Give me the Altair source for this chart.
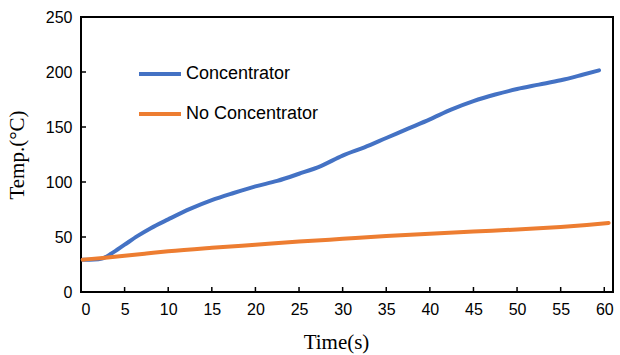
import altair as alt
import pandas as pd

# ---- data ----
t_conc = [0.2, 1, 2, 2.5, 3.5, 5, 6.5, 8, 10, 12.5, 15, 17.5, 20, 22.5, 25, 27.5, 30,
          32.5, 35, 37.5, 40, 42.5, 45, 47.5, 50, 52.5, 55, 57.5, 59.4]
v_conc = [29.4, 29.4, 29.8, 30.6, 35, 43, 51, 58, 66, 75.5, 83.5, 90, 96, 101, 107.5,
          114.5, 124, 131.5, 140, 148.5, 157, 166, 173.5, 179.5, 184.5, 188.5,
          192.5, 197.5, 201.5]
t_none = [0.2, 2.5, 5, 7.5, 10, 15, 20, 25, 30, 35, 40, 45, 50, 55, 58, 60.5]
v_none = [29.4, 31, 33, 35, 37, 40.2, 43, 45.8, 48.3, 50.8, 53, 55, 56.8, 59.2,
          61, 62.8]
series_names = ["Concentrator", "No Concentrator"]
series_colors = ["#4472C4", "#ED7D31"]
x_ticks = [5, 10, 15, 20, 25, 30, 35, 40, 45, 50, 55, 60]
y_ticks = [50, 100, 150, 200, 250]

df = pd.concat([
    pd.DataFrame({"t": t_conc, "v": v_conc, "s": series_names[0]}),
    pd.DataFrame({"t": t_none, "v": v_none, "s": series_names[1]}),
])

W, H = 532, 275
xs = alt.Scale(domain=[0, 61], nice=False, zero=False)
ys = alt.Scale(domain=[0, 250], nice=False)

lines = alt.Chart(df).mark_line(strokeWidth=4, interpolate="monotone",
                                strokeCap="round").encode(
    x=alt.X("t:Q", scale=xs,
            axis=alt.Axis(values=[0] + x_ticks, title="Time(s)", ticks=False,
                          domain=False, grid=False, labelPadding=9,
                          labelFontSize=16, labelFont="Liberation Sans",
                          labelColor="black", titleFont="Liberation Serif",
                          titleFontSize=21, titleFontWeight="normal",
                          titleColor="black", titlePadding=14, titleX=255)),
    y=alt.Y("v:Q", scale=ys,
            axis=alt.Axis(values=[0] + y_ticks, title="Temp.(°C)", ticks=False,
                          domain=False, grid=False, labelPadding=9,
                          labelFontSize=16, labelFont="Liberation Sans",
                          labelColor="black", titleFont="Liberation Serif",
                          titleFontSize=21, titleFontWeight="normal",
                          titleColor="black", titlePadding=18)),
    color=alt.Color("s:N", scale=alt.Scale(domain=series_names, range=series_colors),
                    legend=alt.Legend(title=None, orient="none", legendX=56,
                                      legendY=34, symbolType="stroke",
                                      symbolSize=1764, symbolStrokeWidth=4,
                                      labelFontSize=18, labelFont="Liberation Sans",
                                      labelColor="black", rowPadding=8,
                                      labelOffset=3)),
)

xt = alt.Chart(pd.DataFrame({"t": x_ticks})).mark_rule(color="black", strokeWidth=1.5).encode(
    x=alt.X("t:Q", scale=xs), y=alt.value(H), y2=alt.value(H - 5))
yt = alt.Chart(pd.DataFrame({"v": y_ticks})).mark_rule(color="black", strokeWidth=1.5).encode(
    y=alt.Y("v:Q", scale=ys), x=alt.value(0), x2=alt.value(5))

chart = alt.layer(lines, xt, yt).properties(
    width=W, height=H,
    autosize=alt.AutoSizeParams(type="none"),
    padding={"left": 81, "top": 17, "right": 7, "bottom": 63},
    background="white",
).configure_view(stroke="black", strokeWidth=2)

chart.save("out.html", embed_options={"renderer": "svg", "actions": False})
